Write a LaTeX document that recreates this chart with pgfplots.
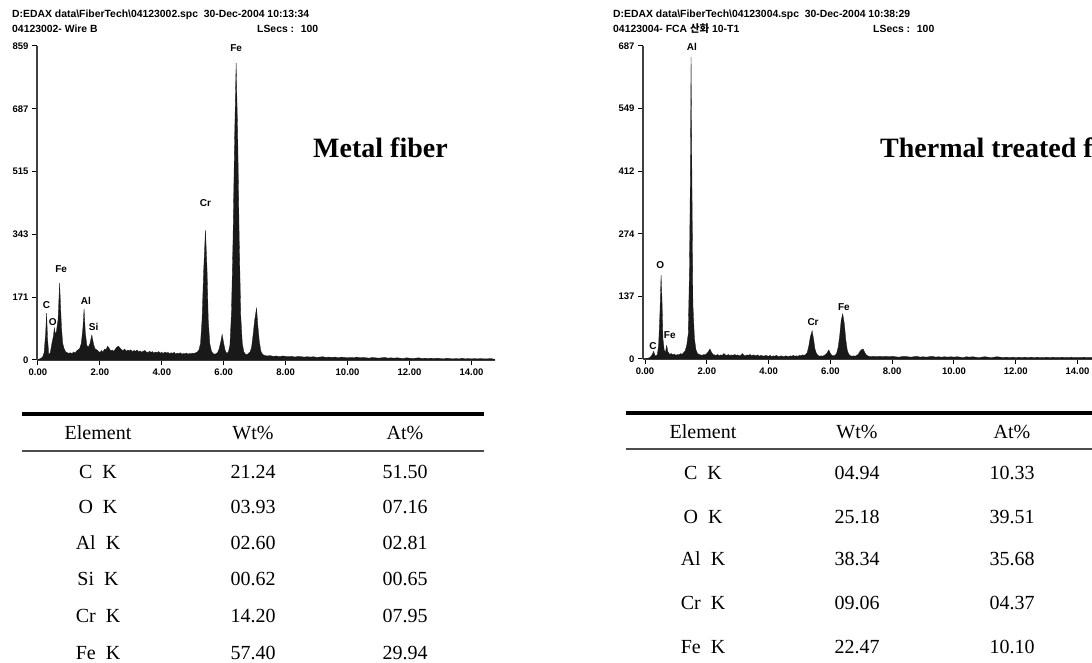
\documentclass[border=0pt]{standalone}
\usepackage{fontspec}
\setmainfont{Liberation Serif}
\newfontfamily\hd{Liberation Sans}
\newfontfamily\kr{Noto Sans CJK KR}
\usepackage{pgfplots}
\pgfplotsset{compat=1.18}
\pgfplotsset{eds/.style={scale only axis, width=458pt, axis lines*=left,
  axis line style={line width=1.3pt, color=black!75},
  tick align=outside, major tick length=5pt,
  every tick/.style={black, line width=1pt},
  xtick={0,2,4,6,8,10,12,14},
  xticklabels={0.00,2.00,4.00,6.00,8.00,10.00,12.00,14.00},
  tick label style={font=\hd\bfseries\fontsize{9.5}{10}\selectfont},
  clip=false, ymin=0}}
\tikzset{pk/.style={font=\hd\bfseries\fontsize{10}{10}\selectfont, inner sep=0pt}}
\newcommand{\hdr}{\hd\bfseries\fontsize{10.4}{11}\selectfont}
\newcommand{\tb}{\fontsize{20}{22}\selectfont}
\begin{document}
\begin{tikzpicture}[x=1pt,y=1pt]
\fill[white] (0,0) rectangle (1092,663);
\begin{scope}
\clip (0,0) rectangle (1092,663);
% headers
\node[anchor=west, inner sep=0pt] at (12,648) {\hdr D:EDAX data\textbackslash FiberTech\textbackslash 04123002.spc\ \ 30-Dec-2004 10:13:34};
\node[anchor=west, inner sep=0pt] at (12,634) {\hdr 04123002- Wire B};
\node[anchor=west, inner sep=0pt] at (257,634) {\hdr LSecs : \ 100};
\node[anchor=west, inner sep=0pt] at (613,648) {\hdr D:EDAX data\textbackslash FiberTech\textbackslash 04123004.spc\ \ 30-Dec-2004 10:38:29};
\node[anchor=west, inner sep=0pt] at (613,634) {\hdr 04123004- FCA {\kr\bfseries 산화} 10-T1};
\node[anchor=west, inner sep=0pt] at (873,634) {\hdr LSecs : \ 100};

% left spectrum
\begin{axis}[eds, at={(37pt,303pt)}, anchor=south west, height=314pt,
  xmin=-0.03, xmax=14.76, ymax=859,
  ytick={0,171.8,343.6,515.4,687.2,859}, yticklabels={0,171,343,515,687,859}]
\addplot[fill=black!90, draw=black!90, line width=0.3pt] coordinates {
(0.00,0) (0.05,3) (0.10,5) (0.15,8) (0.20,20) (0.25,75) (0.28,128) (0.31,60) (0.35,15)
(0.40,20) (0.45,45) (0.50,65) (0.53,88) (0.56,70) (0.60,80) (0.65,110) (0.70,210) (0.73,150)
(0.76,90) (0.80,45) (0.85,30) (0.90,22) (0.95,20) (1.00,18) (1.05,20) (1.10,17) (1.15,22)
(1.20,19) (1.25,25) (1.30,28) (1.35,32) (1.40,45) (1.45,85) (1.49,140) (1.53,75) (1.58,40)
(1.63,35) (1.68,45) (1.74,68) (1.80,42) (1.85,30) (1.90,28) (1.95,24) (2.00,20) (2.05,26)
(2.10,22) (2.15,30) (2.20,28) (2.25,38) (2.30,32) (2.35,25) (2.40,27) (2.45,24) (2.50,30)
(2.55,35) (2.60,38) (2.65,33) (2.70,28) (2.75,26) (2.80,30) (2.85,24) (2.90,27) (2.95,25)
(3.00,28) (3.05,22) (3.10,26) (3.15,24) (3.20,27) (3.25,22) (3.30,25) (3.35,21) (3.40,24)
(3.45,26) (3.50,22) (3.55,20) (3.60,24) (3.65,21) (3.70,23) (3.75,19) (3.80,22) (3.85,20)
(3.90,23) (3.95,19) (4.00,21) (4.05,18) (4.10,22) (4.15,19) (4.20,21) (4.25,17) (4.30,20)
(4.35,18) (4.40,21) (4.45,16) (4.50,19) (4.55,17) (4.60,20) (4.65,16) (4.70,18) (4.75,17)
(4.80,19) (4.85,16) (4.90,18) (4.95,17) (5.00,19) (5.05,18) (5.10,20) (5.15,22) (5.20,28)
(5.25,45) (5.30,110) (5.35,240) (5.41,356) (5.46,250) (5.50,110) (5.55,45) (5.60,25) (5.65,18)
(5.70,16) (5.75,17) (5.80,20) (5.85,30) (5.90,48) (5.95,70) (6.00,45) (6.05,25) (6.10,18)
(6.15,22) (6.20,40) (6.25,130) (6.30,330) (6.35,600) (6.40,812) (6.45,620) (6.50,330) (6.55,120)
(6.60,45) (6.65,22) (6.70,16) (6.75,15) (6.80,18) (6.85,22) (6.90,35) (6.95,70) (7.00,110)
(7.06,142) (7.10,95) (7.15,50) (7.20,24) (7.25,16) (7.30,13) (7.40,11) (7.50,12) (7.60,10)
(7.70,11) (7.80,9) (7.90,11) (8.00,10) (8.10,9) (8.20,10) (8.30,8) (8.40,10) (8.50,9)
(8.60,8) (8.70,9) (8.80,8) (8.90,9) (9.00,7) (9.10,8) (9.20,9) (9.30,7) (9.40,8) (9.50,7)
(9.60,8) (9.70,6) (9.80,8) (9.90,7) (10.00,6) (10.10,7) (10.20,6) (10.30,8) (10.40,6)
(10.50,7) (10.60,6) (10.70,5) (10.80,7) (10.90,6) (11.00,5) (11.10,6) (11.20,7) (11.30,5)
(11.40,6) (11.50,5) (11.60,6) (11.70,5) (11.80,4) (11.90,6) (12.00,5) (12.10,4) (12.20,5)
(12.30,6) (12.40,4) (12.50,5) (12.60,4) (12.70,5) (12.80,4) (12.90,5) (13.00,4) (13.10,3)
(13.20,5) (13.30,4) (13.40,3) (13.50,4) (13.60,3) (13.70,5) (13.80,3) (13.90,4) (14.00,3)
(14.10,4) (14.20,3) (14.30,4) (14.40,3) (14.50,3) (14.60,4) (14.70,3) (14.76,0)
} \closedcycle;
\node[pk] at (axis cs:6.40,853) {Fe};
\node[pk] at (axis cs:5.41,430) {Cr};
\node[pk] at (axis cs:0.75,249) {Fe};
\node[pk] at (axis cs:0.28,150) {C};
\node[pk] at (axis cs:0.48,104) {O};
\node[pk] at (axis cs:1.55,161) {Al};
\node[pk] at (axis cs:1.80,90) {Si};
\end{axis}

% right spectrum
\begin{axis}[eds, at={(643pt,304pt)}, anchor=south west, height=313pt,
  xmin=-0.065, xmax=14.76, ymax=687,
  ytick={0,137.4,274.8,412.2,549.6,687}, yticklabels={0,137,274,412,549,687}]
\addplot[fill=black!90, draw=black!90, line width=0.3pt] coordinates {
(0.00,0) (0.05,1) (0.10,2) (0.15,3) (0.20,6) (0.25,12) (0.28,17) (0.31,10) (0.35,6)
(0.40,10) (0.44,30) (0.48,95) (0.52,184) (0.55,130) (0.58,45) (0.62,20) (0.66,14) (0.70,30)
(0.74,16) (0.80,10) (0.85,12) (0.90,9) (0.95,11) (1.00,8) (1.05,10) (1.10,9) (1.15,12)
(1.20,10) (1.25,14) (1.30,18) (1.35,30) (1.40,55) (1.44,200) (1.47,420) (1.49,663) (1.52,380)
(1.55,120) (1.60,45) (1.65,20) (1.70,12) (1.75,10) (1.80,9) (1.85,8) (1.90,10) (1.95,9)
(2.00,12) (2.05,16) (2.10,22) (2.15,15) (2.20,10) (2.25,9) (2.30,8) (2.35,10) (2.40,7)
(2.45,9) (2.50,8) (2.55,12) (2.60,9) (2.65,8) (2.70,10) (2.75,7) (2.80,9) (2.85,8)
(2.90,10) (2.95,8) (3.00,9) (3.05,7) (3.10,8) (3.15,12) (3.20,8) (3.25,7) (3.30,9)
(3.35,8) (3.40,10) (3.45,7) (3.50,9) (3.55,8) (3.60,7) (3.65,9) (3.70,6) (3.75,8)
(3.80,7) (3.85,6) (3.90,8) (3.95,7) (4.00,6) (4.05,8) (4.10,5) (4.15,7) (4.20,6)
(4.25,8) (4.30,6) (4.35,5) (4.40,7) (4.45,6) (4.50,5) (4.55,7) (4.60,6) (4.65,5)
(4.70,7) (4.75,6) (4.80,8) (4.85,6) (4.90,7) (4.95,6) (5.00,8) (5.05,7) (5.10,9)
(5.15,8) (5.20,10) (5.25,14) (5.30,28) (5.35,48) (5.41,62) (5.46,42) (5.50,22) (5.55,12)
(5.60,8) (5.65,6) (5.70,7) (5.75,6) (5.80,8) (5.85,10) (5.90,14) (5.95,20) (6.00,12)
(6.05,8) (6.10,7) (6.15,8) (6.20,12) (6.25,25) (6.30,50) (6.35,85) (6.40,99) (6.45,78)
(6.50,42) (6.55,18) (6.60,10) (6.65,7) (6.70,6) (6.75,7) (6.80,6) (6.85,8) (6.90,10)
(6.95,16) (7.00,20) (7.06,22) (7.10,16) (7.15,10) (7.20,7) (7.25,6) (7.30,5) (7.40,6)
(7.50,5) (7.60,6) (7.70,5) (7.80,6) (7.90,5) (8.00,6) (8.10,5) (8.20,4) (8.30,5) (8.40,6)
(8.50,5) (8.60,4) (8.70,5) (8.80,6) (8.90,4) (9.00,5) (9.10,4) (9.20,5) (9.30,6) (9.40,4)
(9.50,5) (9.60,4) (9.70,5) (9.80,4) (9.90,5) (10.00,4) (10.10,5) (10.20,4) (10.30,3)
(10.40,5) (10.50,4) (10.60,5) (10.70,4) (10.80,3) (10.90,4) (11.00,5) (11.10,4) (11.20,3)
(11.30,4) (11.40,5) (11.50,4) (11.60,3) (11.70,4) (11.80,3) (11.90,4) (12.00,3) (12.10,4)
(12.20,3) (12.30,4) (12.40,3) (12.50,4) (12.60,3) (12.70,4) (12.80,3) (12.90,3) (13.00,4)
(13.10,3) (13.20,4) (13.30,3) (13.40,3) (13.50,4) (13.60,3) (13.70,3) (13.80,4) (13.90,3)
(14.00,3) (14.10,3) (14.20,4) (14.30,3) (14.40,3) (14.50,3) (14.60,3) (14.70,3) (14.76,0)
} \closedcycle;
\node[pk] at (axis cs:1.52,685) {Al};
\node[pk] at (axis cs:0.49,206) {O};
\node[pk] at (axis cs:0.80,53) {Fe};
\node[pk] at (axis cs:0.26,29) {C};
\node[pk] at (axis cs:5.44,81) {Cr};
\node[pk] at (axis cs:6.44,114) {Fe};
\end{axis}

% titles
\node[anchor=base west, inner sep=0pt, font=\bfseries\fontsize{28}{30}\selectfont] at (313,505) {Metal fiber};
\node[anchor=base west, inner sep=0pt, font=\bfseries\fontsize{28}{30}\selectfont] at (880,505) {Thermal treated fiber};

% left table
\draw[line width=3.5pt] (22,249) -- (484,249);
\draw[line width=1.2pt, black!70] (22,212) -- (484,212);
\foreach \x/\t in {98/Element,253/Wt\%,405/At\%} \node[font=\tb] at (\x,230) {\t};
\foreach \y/\a/\b/\c in {191/C~~K/21.24/51.50, 156/O~~K/03.93/07.16, 120/Al~~K/02.60/02.81,
  84/Si~~K/00.62/00.65, 47/Cr~~K/14.20/07.95, 10/Fe~~K/57.40/29.94}
  {\node[font=\tb] at (98,\y) {\a}; \node[font=\tb] at (253,\y) {\b}; \node[font=\tb] at (405,\y) {\c};}

% right table
\draw[line width=3.5pt] (626,250) -- (1100,250);
\draw[line width=1.2pt, black!70] (626,214) -- (1100,214);
\foreach \x/\t in {703/Element,857/Wt\%,1012/At\%} \node[font=\tb] at (\x,231) {\t};
\foreach \y/\a/\b/\c in {190/C~~K/04.94/10.33, 146/O~~K/25.18/39.51, 104/Al~~K/38.34/35.68,
  60/Cr~~K/09.06/04.37, 16/Fe~~K/22.47/10.10}
  {\node[font=\tb] at (703,\y) {\a}; \node[font=\tb] at (857,\y) {\b}; \node[font=\tb] at (1012,\y) {\c};}
\end{scope}
\pgfresetboundingbox
\useasboundingbox (0,0) rectangle (1092,663);
\end{tikzpicture}
\end{document}
